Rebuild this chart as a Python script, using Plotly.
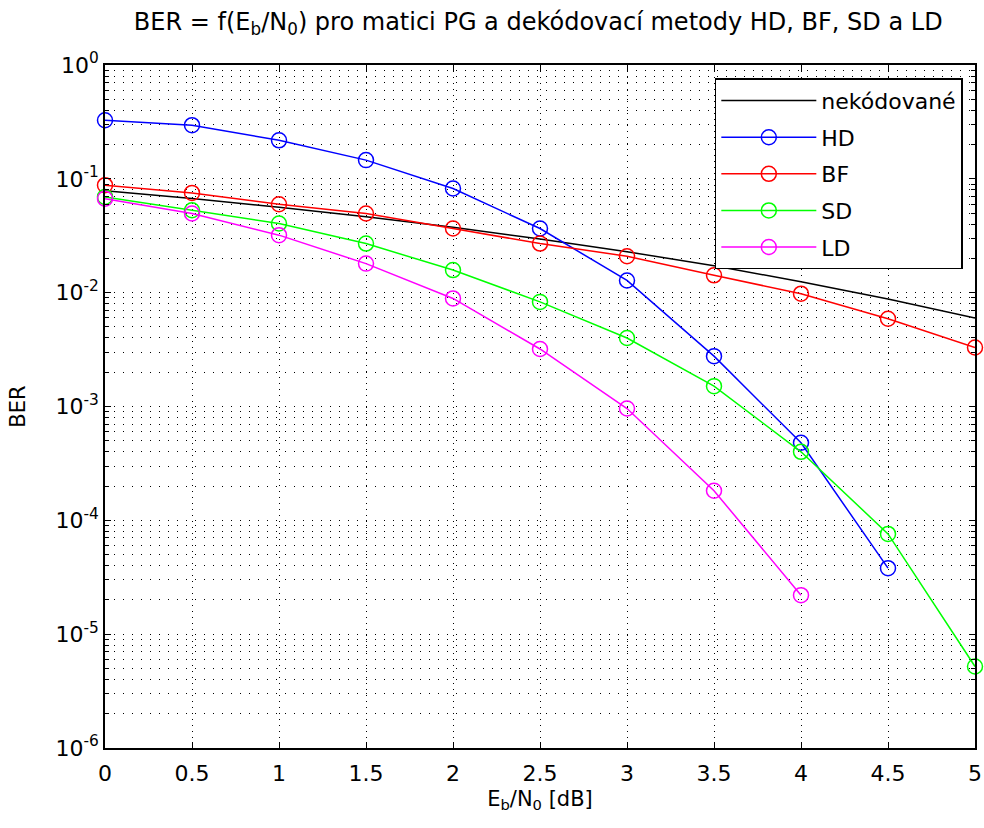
import plotly.graph_objects as go

# Data
ebn0 = [0, 0.5, 1, 1.5, 2, 2.5, 3, 3.5, 4, 4.5, 5]
uncoded = [0.0786, 0.0671, 0.0563, 0.0464, 0.0375, 0.0296, 0.0229, 0.0172, 0.0125, 0.0088, 0.0060]
hd = [0.327, 0.296, 0.218, 0.146, 0.0822, 0.0366, 0.0128, 0.00277, 0.00048, 3.8e-5]
bf = [0.088, 0.0752, 0.0598, 0.0496, 0.0366, 0.027, 0.0209, 0.0142, 0.0098, 0.0059, 0.0033]
sd = [0.0694, 0.053, 0.0405, 0.027, 0.0158, 0.0083, 0.0040, 0.00151, 0.00040, 7.6e-5, 5.2e-6]
ld = [0.067, 0.0496, 0.032, 0.018, 0.0089, 0.0032, 0.00096, 0.000182, 2.2e-5]

ytick_vals = [1e0, 1e-1, 1e-2, 1e-3, 1e-4, 1e-5, 1e-6]
ytick_text = ["10<sup>0</sup>", "10<sup>-1</sup>", "10<sup>-2</sup>", "10<sup>-3</sup>",
              "10<sup>-4</sup>", "10<sup>-5</sup>", "10<sup>-6</sup>"]
xtick_vals = [0, 0.5, 1, 1.5, 2, 2.5, 3, 3.5, 4, 4.5, 5]
xtick_text = ["0", "0.5", "1", "1.5", "2", "2.5", "3", "3.5", "4", "4.5", "5"]

FONT = "DejaVu Sans"

fig = go.Figure()
fig.add_trace(go.Scatter(x=ebn0, y=uncoded, mode="lines", name="nekódované",
                         legendgroup="u", line=dict(color="black", width=1.5), cliponaxis=False))
series = [("HD", hd, "#0000FF"), ("BF", bf, "#FF0000"), ("SD", sd, "#00FF00"), ("LD", ld, "#FF00FF")]
for name, vals, col in series:
    fig.add_trace(go.Scatter(
        x=ebn0[:len(vals)], y=vals, mode="lines+markers", name=name, legendgroup=name,
        line=dict(color=col, width=1.5),
        marker=dict(symbol="circle-open", size=15, color=col, line=dict(width=1.5, color=col)),
        cliponaxis=False))

fig.update_layout(
    width=984, height=828,
    margin=dict(l=105, r=9, t=65, b=80),
    paper_bgcolor="white", plot_bgcolor="white",
    font=dict(family=FONT, size=21, color="black"),
    title=dict(text="BER = f(E<sub>b</sub>/N<sub>0</sub>) pro matici PG a dekódovací metody HD, BF, SD a LD",
               x=0.547, xanchor="center", y=0.974, yanchor="middle", yref="container",
               font=dict(family=FONT, size=24, color="black")),
    showlegend=True,
    legend=dict(x=0.986, y=0.9805, xanchor="right", yanchor="top",
                bgcolor="white", bordercolor="black", borderwidth=1.5,
                font=dict(family=FONT, size=22, color="black"),
                itemwidth=95, tracegroupgap=5, traceorder="grouped"),
)
fig.update_xaxes(
    range=[0, 5], tickvals=xtick_vals, ticktext=xtick_text, automargin=False,
    showline=True, linecolor="black", linewidth=1.5, mirror="allticks",
    ticks="inside", ticklen=6, tickcolor="black", ticklabelstandoff=5,
    showgrid=True, gridcolor="black", gridwidth=1, griddash="1px,5px",
    zeroline=False,
    title=dict(text="E<sub>b</sub>/N<sub>0</sub> [dB]", font=dict(family=FONT, size=21), standoff=6),
    tickfont=dict(family=FONT, size=22),
)
fig.update_yaxes(
    type="log", range=[-6, 0], tickvals=ytick_vals, ticktext=ytick_text, automargin=False,
    showline=True, linecolor="black", linewidth=1.5, mirror="allticks",
    ticks="inside", ticklen=6, tickcolor="black",
    showgrid=True, gridcolor="black", gridwidth=1, griddash="1px,8px",
    minor=dict(dtick="D1", ticks="inside", ticklen=4, tickcolor="black",
               showgrid=True, gridcolor="black", gridwidth=1, griddash="1px,8px"),
    zeroline=False,
    title=dict(text="BER", font=dict(family=FONT, size=21), standoff=24),
    tickfont=dict(family=FONT, size=22),
)

fig.write_html("out.html", config={"displayModeBar": False},
               post_script="document.body.style.margin='0px';")
